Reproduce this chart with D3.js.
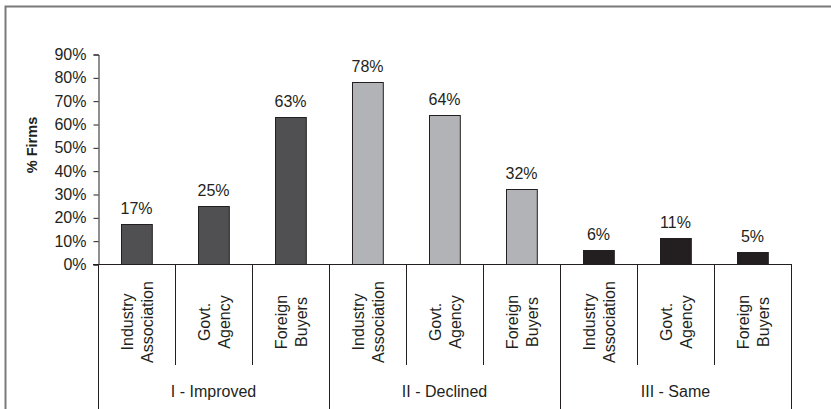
<!DOCTYPE html>
<html>
<head>
<meta charset="utf-8">
<script src="https://cdn.jsdelivr.net/npm/d3@7"></script>
<style>
  html, body { margin: 0; padding: 0; background: #fff; }
  svg { display: block; }
  text { font-family: "Liberation Sans", Arial, sans-serif; fill: #231f20; }
</style>
</head>
<body>
<script>
const groups = ["I - Improved", "II - Declined", "III - Same"];
const subcategories = [["Industry", "Association"], ["Govt.", "Agency"], ["Foreign", "Buyers"]];
const improved = [17, 25, 63];
const declined = [78, 64, 32];
const same = [6, 11, 5];
const yTicks = [0, 10, 20, 30, 40, 50, 60, 70, 80, 90];
const groupColors = ["#505052", "#b2b3b7", "#231f20"];

const W = 831, H = 409;
const seriesByGroup = [improved, declined, same];
const rows = [];
groups.forEach((g, gi) => {
  subcategories.forEach((s, si) => {
    rows.push({ key: gi + "-" + si, group: gi, sub: s, value: seriesByGroup[gi][si] });
  });
});

const svg = d3.select("body").append("svg").attr("width", W).attr("height", H);

// outer frame
svg.append("path")
  .attr("d", `M5.5,${H + 2} V6.5 H${W + 2}`)
  .attr("fill", "none").attr("stroke", "#7a7a7a").attr("stroke-width", 2);

const x0 = 98, x1 = 791, yBase = 264, yTop = 54;
const x = d3.scaleBand().domain(rows.map(d => d.key)).range([x0, x1]).paddingInner(0.6).paddingOuter(0.3);
const y = d3.scaleLinear().domain([0, 90]).range([yBase, yTop]);
const step = x.step();

// y axis
const yAxis = d3.axisLeft(y).tickValues(yTicks).tickFormat(d => d + "%").tickSize(5).tickPadding(7);
const gy = svg.append("g").attr("transform", `translate(${x0 + 0.5},0.5)`).call(yAxis);
gy.select(".domain").attr("stroke", "#231f20");
gy.selectAll(".tick line").attr("stroke", "#231f20");
gy.selectAll(".tick text").attr("font-size", 16).attr("font-family", "Liberation Sans, Arial, sans-serif").attr("fill", "#231f20");

// y label
svg.append("text")
  .attr("transform", `translate(37,145) rotate(-90)`)
  .attr("text-anchor", "middle")
  .attr("font-size", 14.5).attr("font-weight", "bold")
  .text("% Firms");

// bars
svg.append("g").selectAll("rect").data(rows).join("rect")
  .attr("x", d => Math.round(x(d.key)) + 0.5)
  .attr("y", d => Math.round(y(d.value)) + 0.5)
  .attr("width", x.bandwidth())
  .attr("height", d => yBase - Math.round(y(d.value)))
  .attr("fill", d => groupColors[d.group])
  .attr("stroke", "#231f20").attr("stroke-width", 1);

// value labels
svg.append("g").selectAll("text").data(rows).join("text")
  .attr("x", d => x(d.key) + x.bandwidth() / 2)
  .attr("y", d => y(d.value) - 10)
  .attr("text-anchor", "middle")
  .attr("font-size", 16)
  .text(d => d.value + "%");

// x axis baseline
svg.append("line")
  .attr("x1", x0 - 5).attr("x2", x1 + 1)
  .attr("y1", yBase + 0.5).attr("y2", yBase + 0.5)
  .attr("stroke", "#231f20");

// separators
const sepX = d3.range(rows.length + 1).map(i => x0 + i * step);
svg.append("g").selectAll("line").data(sepX).join("line")
  .attr("x1", d => Math.round(d) + 0.5).attr("x2", d => Math.round(d) + 0.5)
  .attr("y1", yBase)
  .attr("y2", (d, i) => (i % 3 === 0) ? H + 2 : 365)
  .attr("stroke", "#231f20");

// subcategory labels (rotated)
const subG = svg.append("g").selectAll("g").data(rows).join("g")
  .attr("transform", d => `translate(${x(d.key) + x.bandwidth() / 2},322) rotate(-90)`);
subG.each(function (d) {
  const t = d3.select(this).append("text").attr("text-anchor", "middle").attr("font-size", 16);
  d.sub.forEach((line, i) => {
    t.append("tspan").attr("x", 0).attr("y", (i - (d.sub.length - 1) / 2) * 20 + 6).text(line);
  });
});

// group labels
svg.append("g").selectAll("text").data(groups).join("text")
  .attr("x", (d, i) => x0 + step * (i * 3 + 1.5))
  .attr("y", 397)
  .attr("text-anchor", "middle")
  .attr("font-size", 16)
  .text(d => d);
</script>
</body>
</html>
